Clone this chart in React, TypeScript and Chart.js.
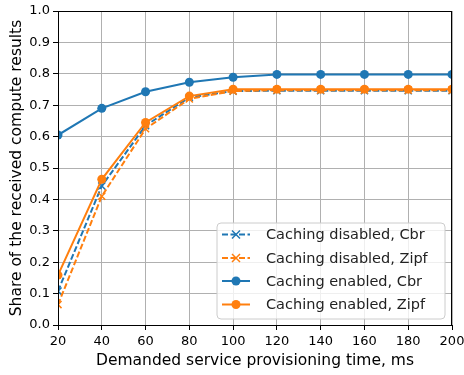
import React, { useEffect, useRef } from "react";
import { Chart, registerables } from "chart.js";

Chart.register(...registerables);

const times = [20, 40, 60, 80, 100, 120, 140, 160, 180, 200];
const disabledCbr = [0.108, 0.443, 0.635, 0.725, 0.745, 0.746, 0.746, 0.746, 0.746, 0.746];
const disabledZipf = [0.065, 0.41, 0.625, 0.72, 0.745, 0.748, 0.748, 0.748, 0.748, 0.748];
const enabledCbr = [0.605, 0.69, 0.743, 0.773, 0.789, 0.798, 0.798, 0.798, 0.798, 0.798];
const enabledZipf = [0.159, 0.464, 0.645, 0.729, 0.751, 0.751, 0.751, 0.751, 0.751, 0.751];
const xTicks = [20, 40, 60, 80, 100, 120, 140, 160, 180, 200];
const yTicks = [0, 0.1, 0.2, 0.3, 0.4, 0.5, 0.6, 0.7, 0.8, 0.9, 1.0];

const BLUE = "#1f77b4";
const ORANGE = "#ff7f0e";
const FONT = "DejaVu Sans";

const seriesDefs = [
  { label: "Caching disabled, Cbr", data: disabledCbr, color: BLUE, dashed: true, marker: "crossRot" },
  { label: "Caching disabled, Zipf", data: disabledZipf, color: ORANGE, dashed: true, marker: "crossRot" },
  { label: "Caching enabled, Cbr", data: enabledCbr, color: BLUE, dashed: false, marker: "circle" },
  { label: "Caching enabled, Zipf", data: enabledZipf, color: ORANGE, dashed: false, marker: "circle" },
];

const frameAndLegend = {
  id: "frameAndLegend",
  afterDraw(chart: any) {
    const { ctx, chartArea } = chart;
    ctx.save();
    ctx.strokeStyle = "#000";
    ctx.lineWidth = 1;
    ctx.strokeRect(chartArea.left + 0.5, chartArea.top + 0.5, chartArea.right - chartArea.left - 1, chartArea.bottom - chartArea.top);
    // legend
    const bx = 217, by = 223, bw = 228, bh = 96, r = 4;
    ctx.beginPath();
    ctx.moveTo(bx + r, by);
    ctx.arcTo(bx + bw, by, bx + bw, by + bh, r);
    ctx.arcTo(bx + bw, by + bh, bx, by + bh, r);
    ctx.arcTo(bx, by + bh, bx, by, r);
    ctx.arcTo(bx, by, bx + bw, by, r);
    ctx.closePath();
    ctx.fillStyle = "rgba(255,255,255,0.8)";
    ctx.fill();
    ctx.strokeStyle = "#cccccc";
    ctx.lineWidth = 1;
    ctx.stroke();
    const rows = [234.5, 258, 281, 304.5];
    seriesDefs.forEach((s, i) => {
      const y = rows[i];
      ctx.strokeStyle = s.color;
      ctx.lineWidth = 2;
      ctx.setLineDash(s.dashed ? [6, 2.5] : []);
      ctx.beginPath();
      ctx.moveTo(222, y);
      ctx.lineTo(250, y);
      ctx.stroke();
      ctx.setLineDash([]);
      if (s.marker === "circle") {
        ctx.fillStyle = s.color;
        ctx.beginPath();
        ctx.arc(236, y, 4.5, 0, Math.PI * 2);
        ctx.fill();
      } else {
        ctx.lineWidth = 1.5;
        ctx.beginPath();
        ctx.moveTo(232, y - 4);
        ctx.lineTo(240, y + 4);
        ctx.moveTo(232, y + 4);
        ctx.lineTo(240, y - 4);
        ctx.stroke();
      }
      ctx.fillStyle = "#222";
      ctx.font = `14.5px '${FONT}'`;
      ctx.textBaseline = "middle";
      ctx.textAlign = "left";
      ctx.fillText(s.label, 266, y + 1);
    });
    ctx.restore();
  },
};

export default function App() {
  const ref = useRef<HTMLCanvasElement>(null);
  useEffect(() => {
    document.body.style.margin = "0";
    const c = ref.current!;
    const chart = new Chart(c, {
      type: "line",
      data: {
        datasets: seriesDefs.map((s, i) => ({
          label: s.label,
          data: s.data.map((v, j) => ({ x: times[j], y: v })),
          borderColor: s.color,
          backgroundColor: s.color,
          borderWidth: 2,
          borderDash: s.dashed ? [6, 2.5] : [],
          pointStyle: s.marker as any,
          pointRadius: s.marker === "circle" ? 4.5 : 5,
          pointBorderWidth: s.marker === "circle" ? 0 : 1.5,
          pointBorderColor: s.color,
          pointBackgroundColor: s.color,
          tension: 0,
          fill: false,
          order: 3 - i,
        })),
      },
      options: {
        animation: false,
        responsive: false,
        layout: { padding: { top: 11, right: 12, left: 0, bottom: 0 } },
        plugins: { legend: { display: false }, tooltip: { enabled: false } },
        scales: {
          x: {
            type: "linear",
            min: 20,
            max: 200,
            afterBuildTicks: (s: any) => { s.ticks = xTicks.map((v) => ({ value: v })); },
            afterFit: (s: any) => { s.height = 50; s.paddingLeft = 0; s.paddingRight = 0; },
            ticks: { color: "#000", font: { family: FONT, size: 13 }, padding: 4, maxRotation: 0 },
            grid: { color: "#b0b0b0", lineWidth: 1, tickLength: 5, tickColor: "#000" },
            border: { color: "#000", width: 1 },
            title: { display: true, text: "Demanded service provisioning time, ms", color: "#000", font: { family: FONT, size: 15.5 }, padding: { top: 2, bottom: 5 } },
          },
          y: {
            type: "linear",
            min: 0,
            max: 1,
            afterBuildTicks: (s: any) => { s.ticks = yTicks.map((v) => ({ value: v })); },
            afterFit: (s: any) => { s.width = 58; s.paddingTop = 0; s.paddingBottom = 0; },
            ticks: { color: "#000", font: { family: FONT, size: 13 }, padding: 3, callback: (v: any) => Number(v).toFixed(1) },
            grid: { color: "#b0b0b0", lineWidth: 1, tickLength: 5, tickColor: "#000" },
            border: { color: "#000", width: 1 },
            title: { display: true, text: "Share of the received compute results", color: "#000", font: { family: FONT, size: 15.5 }, padding: { top: 8, bottom: 2 } },
          },
        },
      },
      plugins: [frameAndLegend],
    });
    return () => chart.destroy();
  }, []);
  return (
    <div style={{ width: 464, height: 375 }}>
      <canvas ref={ref} width={464} height={375} style={{ display: "block" }} />
    </div>
  );
}
